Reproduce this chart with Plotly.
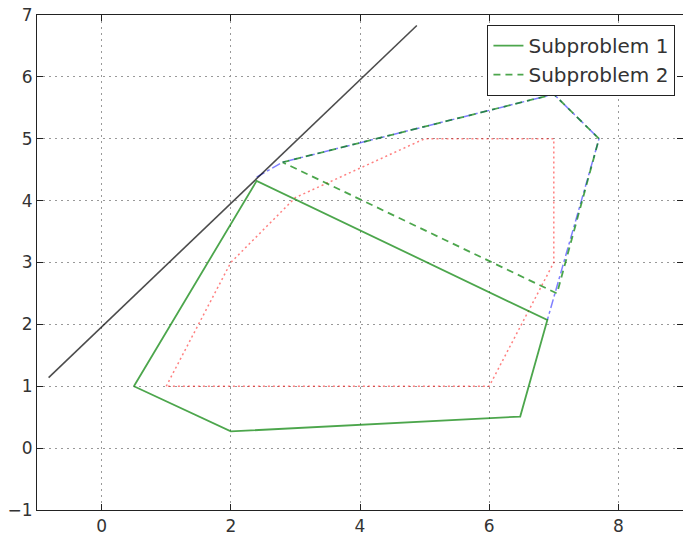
import plotly.graph_objects as go

# Tangent line
line_x = [-0.82, 4.88]
line_y = [1.14, 6.83]

# Subproblem 1 (solid green polygon)
sp1_x = [0.5, 2.0, 6.48, 6.9, 2.4, 0.5]
sp1_y = [1.0, 0.27, 0.51, 2.07, 4.32, 1.0]

# Subproblem 2 (dashed green polygon)
sp2_x = [2.8, 7.0, 7.7, 7.05, 2.8]
sp2_y = [4.62, 5.72, 5.0, 2.5, 4.62]

# Blue dash-dot hull
hull_x = [2.4, 2.8, 7.0, 7.7, 6.9]
hull_y = [4.38, 4.62, 5.72, 5.0, 2.07]

# Red dotted polygon
red_x = [1, 2, 3, 5, 7, 7, 6, 1]
red_y = [1, 3, 4.05, 5, 5, 3, 1, 1]

fig = go.Figure()
fig.add_trace(go.Scatter(x=red_x, y=red_y, mode="lines", showlegend=False,
                         line=dict(color="rgba(255,0,0,0.5)", width=1.5, dash="2px,3px")))
fig.add_trace(go.Scatter(x=hull_x, y=hull_y, mode="lines", showlegend=False,
                         line=dict(color="rgba(0,0,255,0.5)", width=1.5, dash="dashdot")))
fig.add_trace(go.Scatter(x=line_x, y=line_y, mode="lines", showlegend=False,
                         line=dict(color="rgba(0,0,0,0.7)", width=1.6)))
fig.add_trace(go.Scatter(x=sp1_x, y=sp1_y, mode="lines", name="Subproblem 1",
                         line=dict(color="rgba(0,128,0,0.7)", width=1.8)))
fig.add_trace(go.Scatter(x=sp2_x, y=sp2_y, mode="lines", name="Subproblem 2",
                         line=dict(color="rgba(0,128,0,0.7)", width=1.8, dash="7px,5px")))

axis_common = dict(showline=True, linecolor="#222", linewidth=1.2, mirror="ticks",
                   ticks="inside", ticklen=6, tickcolor="#222", automargin=False,
                   showgrid=True, gridcolor="#999999", griddash="2px,4px", gridwidth=1,
                   zeroline=False, tickfont=dict(size=17, color="#333", family="DejaVu Sans"))

fig.update_xaxes(range=[-1, 9], tickvals=[0, 2, 4, 6, 8], **axis_common)
fig.update_yaxes(range=[-1, 7], tickvals=[-1, 0, 1, 2, 3, 4, 5, 6, 7],
                 ticktext=["\u22121", "0", "1", "2", "3", "4", "5", "6", "7"], **axis_common)

fig.update_layout(width=683, height=535, margin=dict(l=37, r=0, t=15, b=25),
                  plot_bgcolor="white", paper_bgcolor="white",
                  legend=dict(x=0.988, y=0.98, xanchor="right", yanchor="top",
                              bordercolor="#222", borderwidth=1.2, bgcolor="white",
                              itemwidth=30, tracegroupgap=0,
                              font=dict(size=20, color="#333", family="DejaVu Sans")))

fig.write_html("out.html")
